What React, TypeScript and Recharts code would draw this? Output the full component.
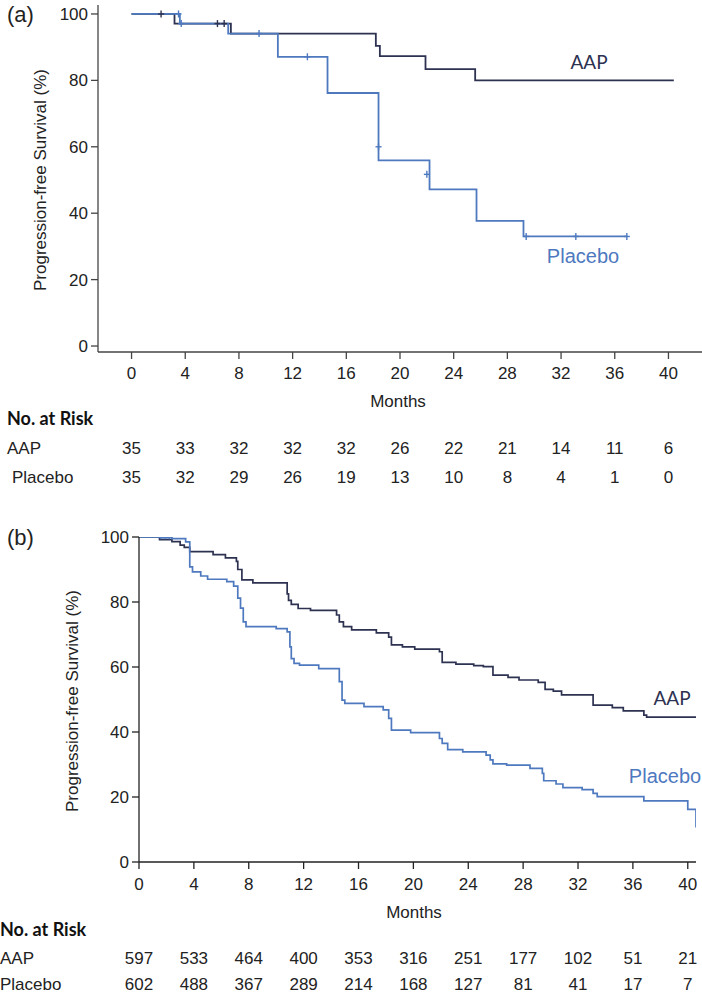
import React from 'react';
import { ComposedChart, Line, Scatter, XAxis, YAxis } from 'recharts';

const MONTH_TICKS = [0, 4, 8, 12, 16, 20, 24, 28, 32, 36, 40];
const PCT_TICKS = [0, 20, 40, 60, 80, 100];

// panel (a) – KM steps
const aapA = [
  { t: 0, s: 100 }, { t: 3.2, s: 97.1 }, { t: 7.4, s: 94.1 }, { t: 18.2, s: 90.4 },
  { t: 18.5, s: 87.3 }, { t: 21.9, s: 83.4 }, { t: 25.6, s: 80 }, { t: 40.4, s: 80 },
];
const placeboA = [
  { t: 0, s: 100 }, { t: 3.6, s: 97.1 }, { t: 7.2, s: 94.1 }, { t: 10.9, s: 87.1 },
  { t: 14.6, s: 76.2 }, { t: 18.4, s: 55.9 }, { t: 22.2, s: 47.2 }, { t: 25.7, s: 37.7 },
  { t: 29.2, s: 33 }, { t: 36.9, s: 33 },
];
const aapCensorA = [{ t: 2.2, s: 100 }, { t: 6.4, s: 97.1 }, { t: 6.9, s: 97.1 }];
const placeboCensorA = [
  { t: 3.5, s: 100 }, { t: 3.7, s: 97.1 }, { t: 9.5, s: 94.1 }, { t: 13.1, s: 87.1 },
  { t: 18.4, s: 60 }, { t: 22.0, s: 51.7 }, { t: 29.4, s: 33 }, { t: 33.1, s: 33 }, { t: 36.9, s: 33 },
];
const riskAapA = [35, 33, 32, 32, 32, 26, 22, 21, 14, 11, 6];
const riskPlaceboA = [35, 32, 29, 26, 19, 13, 10, 8, 4, 1, 0];

// panel (b)
const aapB = [
  { t: 0, s: 100 }, { t: 1.5, s: 99.2 }, { t: 2.4, s: 98.6 }, { t: 3.0, s: 97.5 }, { t: 3.3, s: 96.8 },
  { t: 3.7, s: 95.5 }, { t: 5.4, s: 94.6 }, { t: 6.3, s: 93.6 }, { t: 7.1, s: 92.5 }, { t: 7.2, s: 90 },
  { t: 7.5, s: 86.8 }, { t: 8.3, s: 85.9 }, { t: 10.8, s: 82.5 }, { t: 10.9, s: 80.5 }, { t: 11.1, s: 79.3 },
  { t: 11.6, s: 78 }, { t: 12.5, s: 77.4 }, { t: 14.4, s: 76 }, { t: 14.6, s: 73.9 }, { t: 14.9, s: 72.4 },
  { t: 15.5, s: 71.4 }, { t: 17.3, s: 70.5 }, { t: 18.2, s: 69.2 }, { t: 18.4, s: 66.8 }, { t: 19.2, s: 66.2 },
  { t: 20.1, s: 65.5 }, { t: 21.9, s: 64.7 }, { t: 22.1, s: 61.4 }, { t: 23.1, s: 60.9 }, { t: 24.4, s: 60.4 },
  { t: 25.1, s: 60.1 }, { t: 25.8, s: 57.5 }, { t: 26.9, s: 56.8 }, { t: 27.7, s: 56 }, { t: 29.1, s: 55.3 },
  { t: 29.6, s: 53.1 }, { t: 30.2, s: 52.6 }, { t: 30.8, s: 51.4 }, { t: 33.1, s: 48.3 }, { t: 34.5, s: 47.5 },
  { t: 35.3, s: 46.5 }, { t: 36.8, s: 45.2 }, { t: 37.0, s: 44.6 }, { t: 40.6, s: 44.6 },
];
const placeboB = [
  { t: 0, s: 100 }, { t: 2.4, s: 99.5 }, { t: 3.4, s: 98.5 }, { t: 3.7, s: 90.8 }, { t: 3.9, s: 89.3 },
  { t: 4.5, s: 88 }, { t: 5.0, s: 87 }, { t: 6.4, s: 86.3 }, { t: 6.9, s: 84.9 }, { t: 7.2, s: 81.2 },
  { t: 7.4, s: 78.1 }, { t: 7.6, s: 73.9 }, { t: 7.8, s: 72.4 }, { t: 10.0, s: 71.8 }, { t: 10.8, s: 70.8 },
  { t: 11.0, s: 66.2 }, { t: 11.1, s: 62.6 }, { t: 11.3, s: 61.1 }, { t: 11.7, s: 60.6 }, { t: 13.1, s: 59.5 },
  { t: 14.6, s: 55.5 }, { t: 14.8, s: 49.8 }, { t: 15.0, s: 48.8 }, { t: 16.4, s: 47.8 }, { t: 17.8, s: 46.8 },
  { t: 18.2, s: 44.2 }, { t: 18.4, s: 40.6 }, { t: 19.8, s: 39.8 }, { t: 21.9, s: 38 }, { t: 22.1, s: 36.5 },
  { t: 22.5, s: 34.6 }, { t: 23.6, s: 33.9 }, { t: 25.3, s: 32.9 }, { t: 25.6, s: 31.4 }, { t: 25.8, s: 30.2 },
  { t: 26.8, s: 29.8 }, { t: 28.5, s: 28.8 }, { t: 29.4, s: 27.3 }, { t: 29.5, s: 25 }, { t: 30.4, s: 24 },
  { t: 30.9, s: 22.9 }, { t: 32.3, s: 22.3 }, { t: 33.1, s: 21.1 }, { t: 33.4, s: 20.1 }, { t: 36.8, s: 18.8 },
  { t: 40.0, s: 16.2 }, { t: 40.6, s: 10.6 },
];
const placeboCensorB = [{ t: 1.6, s: 99.8 }, { t: 1.9, s: 99.8 }, { t: 2.2, s: 99.8 }];
const riskAapB = [597, 533, 464, 400, 353, 316, 251, 177, 102, 51, 21];
const riskPlaceboB = [602, 488, 367, 289, 214, 168, 127, 81, 41, 17, 7];

const AAP_COLOR = '#2d3251';
const PLACEBO_COLOR = '#4e79bf';
const AXIS_COLOR = '#444';
const ARIAL = '"Liberation Sans", Arial, sans-serif';
const CALIBRI = 'Lato, "Open Sans", sans-serif';

const censorShape = (color: string, h: number) => (props: any) => {
  const { cx, cy } = props;
  return (
    <g stroke={color} strokeWidth={1.4}>
      <line x1={cx} x2={cx} y1={cy - h} y2={cy + h} />
      <line x1={cx - 3} x2={cx + 3} y1={cy} y2={cy} />
    </g>
  );
};

const makeTick = (top: number[], bottom: number[], labelDy: number, row1: number, row2: number) => (props: any) => {
  const { x, y, payload } = props;
  const i = MONTH_TICKS.indexOf(payload.value);
  const common = { x, textAnchor: 'middle' as const, dominantBaseline: 'central' as const, fontFamily: ARIAL, fontSize: 17, fill: '#222' };
  return (
    <g>
      <text {...common} y={y + labelDy}>{payload.value}</text>
      <text {...common} y={y + row1}>{top[i]}</text>
      <text {...common} y={y + row2}>{bottom[i]}</text>
    </g>
  );
};

const abs = (x: number, y: number, style: React.CSSProperties, text: string, center = true) => (
  <div
    style={{
      position: 'absolute', left: x, top: y, whiteSpace: 'nowrap', lineHeight: 1,
      transform: center ? 'translate(-50%, -50%)' : 'translate(0, -50%)', ...style,
    }}
  >
    {text}
  </div>
);

const yLabel = (x: number, y: number) => (
  <div
    style={{
      position: 'absolute', left: x, top: y, whiteSpace: 'nowrap', lineHeight: 1,
      fontFamily: ARIAL, fontSize: 17, color: '#222',
      transform: 'translate(-50%, -50%) rotate(-90deg)',
    }}
  >
    Progression-free Survival (%)
  </div>
);

export default function App() {
  const tickStyle = { fontSize: 17, fill: '#222', fontFamily: ARIAL };
  return (
    <div style={{ position: 'absolute', left: 0, top: 0, width: 702, height: 993, background: '#fff', overflow: 'hidden' }}>
      {/* panel (a) */}
      <div style={{ position: 'absolute', left: 0, top: 0 }}>
        <ComposedChart width={702} height={490} margin={{ top: 5, right: 0, bottom: 108, left: 38 }}>
          <XAxis
            dataKey="t" type="number" domain={[-2.5, 42.5]} ticks={MONTH_TICKS} allowDataOverflow
            stroke={AXIS_COLOR} strokeWidth={1.3} tickSize={7} height={30}
            tick={makeTick(riskAapA, riskPlaceboA, 12, 87, 116)} interval={0}
          />
          <YAxis
            type="number" domain={[-1.8, 102.7]} ticks={PCT_TICKS} allowDataOverflow width={60}
            stroke={AXIS_COLOR} strokeWidth={1.3} tickSize={7} tickMargin={3} tick={tickStyle} interval={0}
          />
          <Line data={aapA} dataKey="s" type="stepAfter" stroke={AAP_COLOR} strokeWidth={1.8} dot={false} isAnimationActive={false} />
          <Line data={placeboA} dataKey="s" type="stepAfter" stroke={PLACEBO_COLOR} strokeWidth={1.8} dot={false} isAnimationActive={false} />
          <Scatter data={aapCensorA} dataKey="s" shape={censorShape(AAP_COLOR, 3.5)} isAnimationActive={false} />
          <Scatter data={placeboCensorA} dataKey="s" shape={censorShape(PLACEBO_COLOR, 3.5)} isAnimationActive={false} />
        </ComposedChart>
      </div>

      {/* panel (b) */}
      <div style={{ position: 'absolute', left: 0, top: 500 }}>
        <ComposedChart width={702} height={493} margin={{ top: 37, right: 6, bottom: 101, left: 79 }}>
          <XAxis
            dataKey="t" type="number" domain={[0, 40.6]} ticks={MONTH_TICKS} allowDataOverflow
            stroke="#222" strokeWidth={1.3} tickSize={7} height={30}
            tick={makeTick(riskAapB, riskPlaceboB, 13, 87, 113)} interval={0}
          />
          <YAxis
            type="number" domain={[0, 100]} ticks={PCT_TICKS} allowDataOverflow width={60}
            stroke="#222" strokeWidth={1.3} tickSize={7} tickMargin={3} tick={tickStyle} interval={0}
          />
          <Line data={aapB} dataKey="s" type="stepAfter" stroke={AAP_COLOR} strokeWidth={1.7} dot={false} isAnimationActive={false} />
          <Line data={placeboB} dataKey="s" type="stepAfter" stroke={PLACEBO_COLOR} strokeWidth={1.7} dot={false} isAnimationActive={false} />
          <Scatter data={placeboCensorB} dataKey="s" shape={censorShape(PLACEBO_COLOR, 1.5)} isAnimationActive={false} />
        </ComposedChart>
      </div>

      {/* static text */}
      {abs(7, 15, { fontFamily: ARIAL, fontSize: 22, color: '#222' }, '(a)', false)}
      {abs(7, 538, { fontFamily: ARIAL, fontSize: 22, color: '#222' }, '(b)', false)}
      {yLabel(40, 180)}
      {yLabel(72, 701)}
      {abs(589, 61, { fontFamily: CALIBRI, fontSize: 19, color: AAP_COLOR }, 'AAP')}
      {abs(583, 256, { fontFamily: ARIAL, fontSize: 20, color: PLACEBO_COLOR }, 'Placebo')}
      {abs(672, 697, { fontFamily: CALIBRI, fontSize: 19, color: AAP_COLOR }, 'AAP')}
      {abs(665, 776, { fontFamily: ARIAL, fontSize: 20, color: PLACEBO_COLOR }, 'Placebo')}
      {abs(398, 401, { fontFamily: ARIAL, fontSize: 17, color: '#222' }, 'Months')}
      {abs(414, 912, { fontFamily: ARIAL, fontSize: 17, color: '#222' }, 'Months')}
      {abs(7, 418, { fontFamily: CALIBRI, fontWeight: 700, fontSize: 18, color: '#111' }, 'No. at Risk', false)}
      {abs(7, 448, { fontFamily: ARIAL, fontSize: 17, color: '#222' }, 'AAP', false)}
      {abs(12, 477, { fontFamily: ARIAL, fontSize: 17, color: '#222' }, 'Placebo', false)}
      {abs(0, 929, { fontFamily: CALIBRI, fontWeight: 700, fontSize: 18, color: '#111' }, 'No. at Risk', false)}
      {abs(0, 958, { fontFamily: ARIAL, fontSize: 17, color: '#222' }, 'AAP', false)}
      {abs(0, 984, { fontFamily: ARIAL, fontSize: 17, color: '#222' }, 'Placebo', false)}
    </div>
  );
}
